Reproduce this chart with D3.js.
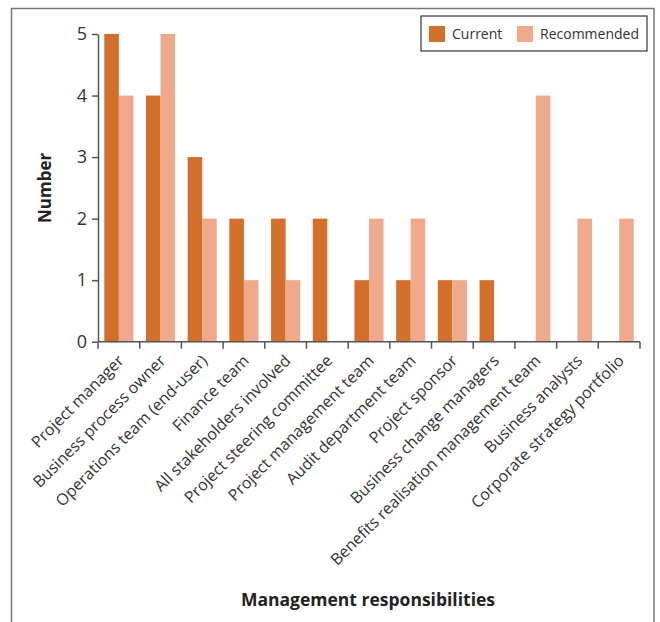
<!DOCTYPE html>
<html>
<head>
<meta charset="utf-8">
<script src="https://cdn.jsdelivr.net/npm/d3@7"></script>
<style>
  body { margin: 0; background: #fff; }
  text { font-family: "Open Sans", "Noto Sans", sans-serif; }
</style>
</head>
<body>
<div id="chart"></div>
<script>
const categories = [
  "Project manager",
  "Business process owner",
  "Operations team (end-user)",
  "Finance team",
  "All stakeholders involved",
  "Project steering committee",
  "Project management team",
  "Audit department team",
  "Project sponsor",
  "Business change managers",
  "Benefits realisation management team",
  "Business analysts",
  "Corporate strategy portfolio"
];
const currentValues = [5, 4, 3, 2, 2, 2, 1, 1, 1, 1, 0, 0, 0];
const recommendedValues = [4, 5, 2, 1, 1, 0, 2, 2, 1, 0, 4, 2, 2];
const seriesNames = ["Current", "Recommended"];
const yTicks = [0, 1, 2, 3, 4, 5];

const colors = { Current: "#d46f2a", Recommended: "#f1a98b" };

const W = 660, H = 622;
const margin = { top: 34, left: 98, right: 20, bottom: 280 };
const width = 640 - margin.left;
const height = 341.7 - margin.top;

const svg = d3.select("#chart").append("svg")
  .attr("width", W).attr("height", H);

// frame
svg.append("rect")
  .attr("x", 11.5).attr("y", 8.5)
  .attr("width", 642.5).attr("height", 640)
  .attr("fill", "none")
  .attr("stroke", "#777")
  .attr("stroke-width", 1.5);

const g = svg.append("g")
  .attr("transform", `translate(${margin.left},${margin.top})`);

const data = categories.map((c, i) => ({
  name: c,
  values: [
    { key: "Current", value: currentValues[i] },
    { key: "Recommended", value: recommendedValues[i] }
  ]
}));

const x0 = d3.scaleBand().domain(categories).range([0, width]).padding(0);
const x1 = d3.scaleBand().domain(seriesNames)
  .range([6.3, x0.bandwidth() - 6.3]);
const y = d3.scaleLinear().domain([0, 5]).range([height, 0]);

// bars
g.selectAll(".grp")
  .data(data)
  .enter()
  .append("g")
  .attr("class", "grp")
  .attr("transform", (d) => `translate(${x0(d.name)},0)`)
  .selectAll("rect")
  .data((d) => d.values)
  .enter()
  .append("rect")
  .attr("x", (d) => x1(d.key))
  .attr("width", x1.bandwidth())
  .attr("y", (d) => y(d.value))
  .attr("height", (d) => height - y(d.value))
  .attr("fill", (d) => colors[d.key]);

// y axis
const yAxis = g.append("g")
  .call(d3.axisLeft(y).tickValues(yTicks).tickFormat(d3.format("d"))
    .tickSize(6).tickPadding(5).tickSizeOuter(0));
yAxis.select(".domain").attr("stroke", "#555").attr("stroke-width", 1.5);
yAxis.selectAll(".tick line").attr("stroke", "#555").attr("stroke-width", 1.5);
yAxis.selectAll("text")
  .style("font-size", "18px")
  .attr("fill", "#333");

// x axis with ticks at band edges
const xAxisG = g.append("g").attr("transform", `translate(0,${height})`);
xAxisG.append("line")
  .attr("x1", 0).attr("x2", width)
  .attr("stroke", "#555").attr("stroke-width", 1.5);
const edges = categories.map((c) => x0(c)).concat([width]);
xAxisG.selectAll(".xtick")
  .data(edges)
  .enter()
  .append("line")
  .attr("x1", (d) => d).attr("x2", (d) => d)
  .attr("y1", 0).attr("y2", 7)
  .attr("stroke", "#555").attr("stroke-width", 1.5);

xAxisG.selectAll(".xlabel")
  .data(categories)
  .enter()
  .append("text")
  .attr("class", "xlabel")
  .attr("text-anchor", "end")
  .attr("transform", (d) => `translate(${x0(d) + x0.bandwidth() / 2 + 6},${20}) rotate(-45)`)
  .style("font-size", "16px")
  .attr("fill", "#333")
  .text((d) => d);

// axis titles
svg.append("text")
  .attr("transform", `translate(51,${margin.top + height / 2}) rotate(-90)`)
  .attr("text-anchor", "middle")
  .style("font-size", "17px")
  .style("font-weight", "bold")
  .attr("fill", "#222")
  .text("Number");

svg.append("text")
  .attr("x", 368)
  .attr("y", 606)
  .attr("text-anchor", "middle")
  .style("font-size", "17.5px")
  .style("font-weight", "bold")
  .attr("fill", "#222")
  .text("Management responsibilities");

// legend
const legend = svg.append("g").attr("transform", "translate(421,16)");
legend.append("rect")
  .attr("width", 226).attr("height", 35)
  .attr("fill", "#fff")
  .attr("stroke", "#333")
  .attr("stroke-width", 1.2);
const legendX = [8, 96];
seriesNames.forEach((s, i) => {
  legend.append("rect")
    .attr("x", legendX[i]).attr("y", 10)
    .attr("width", 16).attr("height", 16)
    .attr("fill", colors[s]);
  legend.append("text")
    .attr("x", legendX[i] + 23).attr("y", 23)
    .style("font-size", "14px")
    .attr("fill", "#333")
    .text(s);
});
</script>
</body>
</html>
